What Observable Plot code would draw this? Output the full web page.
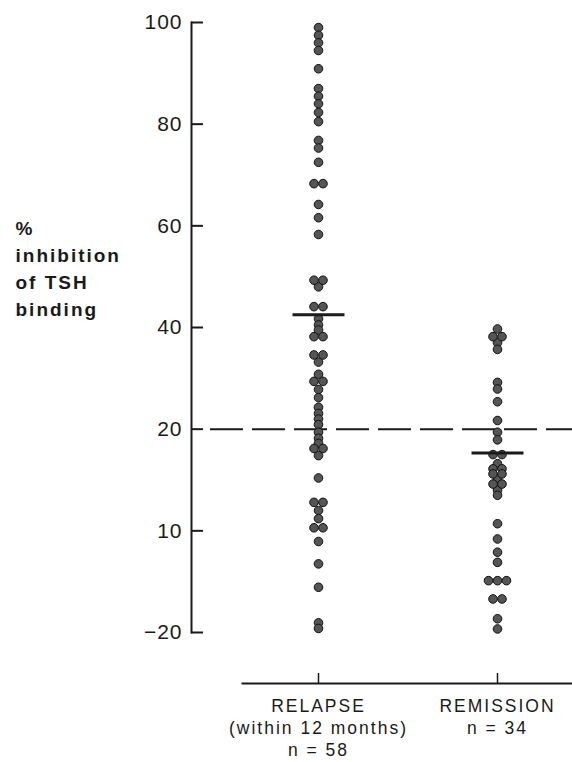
<!DOCTYPE html>
<html><head><meta charset="utf-8">
<script src="https://cdn.jsdelivr.net/npm/d3@7"></script>
<script src="https://cdn.jsdelivr.net/npm/@observablehq/plot@0.6"></script>
<style>body{margin:0;background:#fff}</style>
</head><body><div id="chart"></div>
<script>
// ---- data ----
const categories = ["RELAPSE", "REMISSION"];
const categoryNotes = ["(within 12 months)", ""];
const relapse = [
  99, 97.5, 96, 94.5, 90.9, 87, 85.5, 84, 82.3, 80.5, 76.8, 75.3, 72.5, 68.3, 68.3,
  64.2, 61.6, 58.3, 49.3, 49.3, 48, 44.1, 44.1, 41.7, 40.5, 39.5, 38.2, 38.2,
  34.6, 34.6, 33.2, 30.8, 29.4, 29.4, 27.8, 26.2, 24.3, 23.1, 22, 20.9,
  19.4, 18.2, 17.2, 16.2, 16.2, 14.8, 10.4, 5.6, 5.6, 4.0, 2.4, 0.6, 0.6,
  -2.1, -6.5, -11.1, -18.1, -19.2
];
const remission = [
  39.7, 38.2, 38.2, 37, 35.7, 29.2, 27.9, 25.4, 21.7, 19.4, 17.9,
  15, 15, 13.2, 12.2, 12.2, 11.2, 11.2, 10.2, 9.2, 9.2, 8, 7,
  1.4, -1.6, -4.2, -6.2, -9.8, -9.8, -9.8, -13.4, -13.4, -17.3, -19.3
];
const means = [42.5, 15.3];
const threshold = 20;
const yTickValues = [100, 80, 60, 40, 20, 0, -20];
const yTickLabels = ["100", "80", "60", "40", "20", "10", "\u221220"];
const yTitle = ["%", "inhibition", "of TSH", "binding"];

// ---- layout ----
const W = 572, H = 762;
const mL = 191, mT = 22, mB = 79, mR = 0;
const plotW = W - mL - mR, plotH = H - mT - mB;
const seriesList = [relapse, remission];

function spread(cat, vals, step) {
  const counts = d3.rollup(vals, v => v.length, d => d);
  const seen = new Map();
  return vals.map(v => {
    const k = counts.get(v), i = seen.get(v) || 0;
    seen.set(v, i + 1);
    return {cat, value: v, off: (i - (k - 1) / 2) * step};
  });
}
const rows = categories.flatMap((c, i) => spread(c, seriesList[i], 9));
const offs = Array.from(new Set(rows.map(d => d.off)));
const meanRows = categories.map((c, i) => ({cat: c, mean: means[i]}));
const xLabel = c => {
  const i = categories.indexOf(c);
  return [c, categoryNotes[i], `n = ${seriesList[i].length}`].filter(Boolean).join("\n");
};
const ink = "#1a1a1a";
// horizontal bar symbol for the mean markers (half-length = r)
const hbar = {draw(ctx, size) { const h = Math.sqrt(size / Math.PI); ctx.moveTo(-h, 0); ctx.lineTo(h, 0); }};

const chart = Plot.plot({
  width: W, height: H,
  marginLeft: mL, marginRight: mR, marginTop: mT, marginBottom: mB,
  style: {fontFamily: "'Liberation Sans', Arial, sans-serif", color: ink, background: "#fff", overflow: "visible"},
  x: {type: "point", domain: categories, padding: 0, insetLeft: 127, insetRight: 75},
  y: {domain: [-20, 100], insetBottom: 51},
  marks: [
    Plot.frame({anchor: "left", insetBottom: 51, strokeWidth: 2, stroke: ink}),
    Plot.frame({anchor: "bottom", insetLeft: 51, strokeWidth: 2, stroke: ink}),
    Plot.tickY(yTickValues, {y: d => d, insetRight: plotW - 12, strokeWidth: 2, stroke: ink}),
    Plot.ruleX(categories, {x: d => d, insetTop: plotH - 10, strokeWidth: 1.5, stroke: ink}),
    Plot.axisY({ticks: yTickValues, tickFormat: d => yTickLabels[yTickValues.indexOf(d)], tickSize: 0, tickPadding: 9, fontSize: 21, label: null}),
    Plot.axisX({tickSize: 0, tickPadding: 13, tickFormat: xLabel, fontSize: 17.5, lineHeight: 1.26, label: null}),
    Plot.ruleY([threshold], {insetLeft: 19, strokeDasharray: "33,9", strokeWidth: 2, stroke: ink}),
    ...offs.map(o => Plot.dot(rows.filter(d => d.off === o), {x: "cat", y: "value", dx: o, r: 4.3, fill: "#555", stroke: "#111", strokeWidth: 1})),
    Plot.dot(meanRows, {x: "cat", y: "mean", r: 26, symbol: hbar, fill: "none", stroke: ink, strokeWidth: 3}),
    Plot.text([yTitle.join("\n")], {frameAnchor: "top-left", dx: -176, dy: 193, textAnchor: "start", lineAnchor: "top", fontSize: 19, fontWeight: "bold", lineHeight: 1.42, fill: ink})
  ]
});
chart.querySelectorAll('[aria-label="x-axis tick label"] text').forEach(t => t.style.letterSpacing = "2px");
chart.querySelectorAll('[aria-label="y-axis tick label"] text').forEach(t => t.style.letterSpacing = "1px");
chart.querySelectorAll('g[aria-label="text"] text').forEach(t => t.style.letterSpacing = "2px");
document.getElementById("chart").appendChild(chart);
</script>
</body></html>
